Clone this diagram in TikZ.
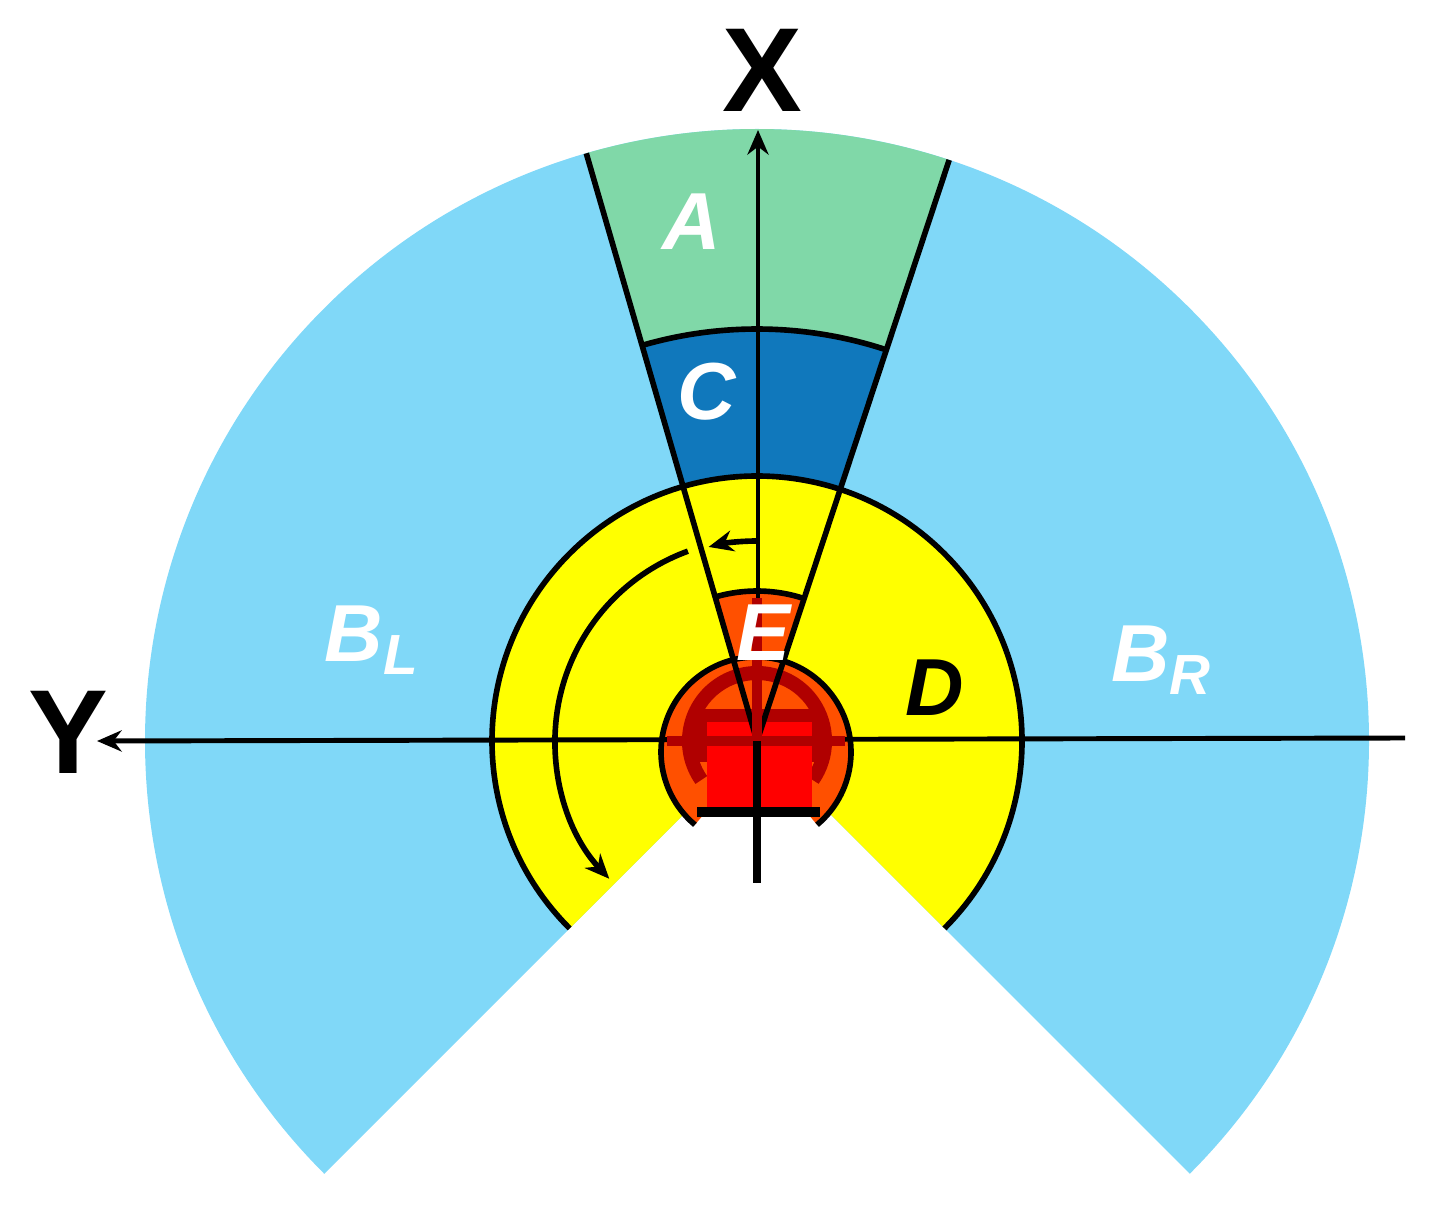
\documentclass[tikz,border=0pt]{standalone}
\usetikzlibrary{calc,arrows.meta}
\usepackage{fontspec}
\setmainfont{Liberation Sans}
\begin{document}
\begin{tikzpicture}[x=0.01cm,y=-0.01cm,
  lbl/.style={font=\fontsize{23}{26}\selectfont\bfseries\itshape,text=white,inner sep=0},
  bd/.style={line width=1.6pt},
  ax/.style={line width=1.4pt,-{Stealth[length=7pt,width=6pt]}}]
\useasboundingbox (0,0) rectangle (1434,1228);
\definecolor{lb}{HTML}{80D8F8}\definecolor{gr}{HTML}{80D8A8}
\definecolor{cb}{HTML}{1078BC}\definecolor{ye}{HTML}{FFFF00}
\definecolor{orr}{HTML}{FF5000}\definecolor{dr}{HTML}{B00000}
\coordinate (O) at (757,741);
% outer sector
\fill[lb] (O) -- ++(45:612) arc[start angle=45,end angle=-225,radius=612] -- cycle;
% A and C
\fill[gr] (O) -- ++(-71.7:612) arc[start angle=-71.7,end angle=-106.2,radius=612] -- cycle;
\fill[cb] (O) -- ++(-71.7:412) arc[start angle=-71.7,end angle=-106.2,radius=412] -- cycle;
\draw[bd] ($(O)+(-71.7:412)$) arc[start angle=-71.7,end angle=-106.2,radius=412];
% D
\fill[ye] (O) -- ++(45:265) arc[start angle=45,end angle=-225,radius=265] -- cycle;
\draw[bd] ($(O)+(45:265)$) arc[start angle=45,end angle=-225,radius=265];
% E
\fill[orr] (O) -- ++(-71.7:150) arc[start angle=-71.7,end angle=-106.2,radius=150] -- cycle;
\draw[bd] ($(O)+(-71.7:150)$) arc[start angle=-71.7,end angle=-106.2,radius=150];
% orange circle
\coordinate (O2) at (756,752);
\fill[orr] (O2) -- ++(50:95) arc[start angle=50,end angle=-230,radius=95] -- cycle;
\draw[bd] ($(O2)+(50:95)$) arc[start angle=50,end angle=-230,radius=95];
% robot
\draw[dr,line width=4pt] ($(O)+(-215:68)$) arc[start angle=-215,end angle=35,radius=68];
\fill[dr] (692,712) rectangle (825,762);
\fill[red] (707,722) rectangle (812,810);
\draw[dr,line width=3pt] (697,714) -- (822,714);
\draw[line width=3pt] (697,812) -- (820,812);
% wedge lines
\draw[bd] (O) -- ++(-106.2:612);
\draw[bd] (O) -- ++(-71.7:612);
% axes
\coordinate (xs) at (758,883); \coordinate (xe) at (758,130);
\coordinate (ys) at (1405,738); \coordinate (ye) at (97,741);
\draw[ax] (xs) -- (xe);
\draw[ax] (ys) -- (ye);
\draw[dr,line width=3pt] (757,598) -- (757,738);
\draw[dr,line width=3pt] (667,741) -- (845,741);
\draw[line width=2.2pt] (757,741) -- (757,883);
% rotation arrows
\draw[line width=1.6pt,-{Stealth[length=7pt,width=6pt]}] ($(O)+(-90:200)$) arc[start angle=-90,end angle=-104,radius=200];
\draw[line width=1.6pt,-{Stealth[length=7pt,width=6pt]}] ($(O)+(-110:202)$) arc[start angle=-110,end angle=-223,radius=202];
% labels
\node[font=\fontsize{34}{36}\selectfont\bfseries] (X) at (762,70) {X};
\node[font=\fontsize{34}{36}\selectfont\bfseries] (Y) at (68,732) {Y};
\node[lbl] (A) at (692,222) {A};
\node[lbl] (C) at (707,392) {C};
\node[lbl] (E) at (763,633) {E};
\node[lbl,text=black] (D) at (935,688) {D};
\node[lbl] (BL) at (372,640) {B\textsubscript{L}};
\node[lbl] (BR) at (1162,660) {B\textsubscript{R}};
\end{tikzpicture}
\end{document}
